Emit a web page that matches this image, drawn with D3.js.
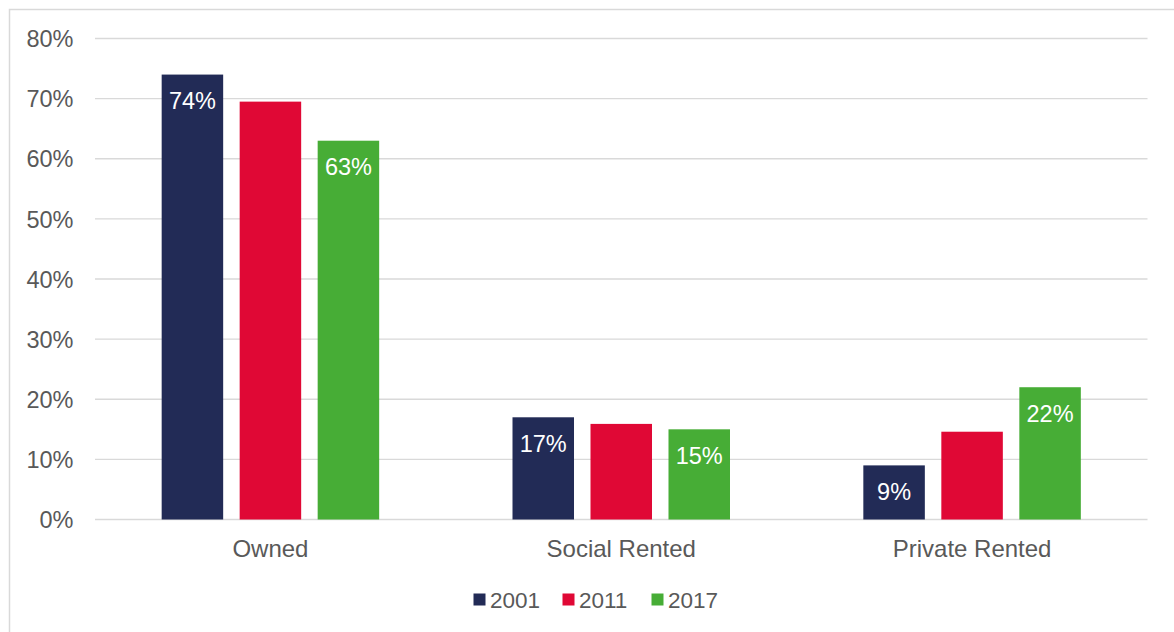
<!DOCTYPE html>
<html>
<head>
<meta charset="utf-8">
<script src="https://cdn.jsdelivr.net/npm/d3@7"></script>
<style>
  html, body { margin: 0; padding: 0; background: #fff; }
  svg { display: block; }
  text { font-family: "Liberation Sans", Arial, sans-serif; }
</style>
</head>
<body>
<svg id="chart" width="1174" height="632"></svg>
<script>
// Housing tenure share by year
const categories = ["Owned", "Social Rented", "Private Rented"];
const years = ["2001", "2011", "2017"];
const values2001 = [74, 17, 9];
const values2011 = [69.5, 15.9, 14.6];
const values2017 = [63, 15, 22];
const labelledYears = ["2001", "2017"];
const yTicks = [0, 10, 20, 30, 40, 50, 60, 70, 80];
const colors = ["#222B56", "#E00835", "#47AD36"];

const seriesValues = { "2001": values2001, "2011": values2011, "2017": values2017 };

const svg = d3.select("#chart");
const W = 1174, H = 632;
const plot = { left: 95, right: 1147.5, top: 38.5, bottom: 519.5 };

// chart frame
svg.append("rect")
  .attr("x", 9.5).attr("y", 9.5)
  .attr("width", W + 20).attr("height", H + 20)
  .attr("fill", "none")
  .attr("stroke", "#d9d9d9")
  .attr("stroke-width", 1.5);

const y = d3.scaleLinear().domain([0, 80]).range([plot.bottom, plot.top]);
const x0 = d3.scaleBand().domain(categories).range([plot.left, plot.right]).padding(0);
const groupWidth = 217.5;
const x1 = d3.scaleBand().domain(years)
  .range([-groupWidth / 2, groupWidth / 2])
  .paddingInner(0.2115).paddingOuter(0);
const color = d3.scaleOrdinal().domain(years).range(colors);

// gridlines
svg.append("g")
  .selectAll("line")
  .data(yTicks)
  .join("line")
  .attr("x1", plot.left).attr("x2", plot.right)
  .attr("y1", d => y(d)).attr("y2", d => y(d))
  .attr("stroke", "#d9d9d9")
  .attr("stroke-width", 1.4);

// y axis labels
const yAxis = d3.axisLeft(y).tickValues(yTicks).tickFormat(d => d + "%").tickSize(0).tickPadding(0);
const yG = svg.append("g").attr("transform", `translate(73.5,0)`).call(yAxis);
yG.select(".domain").remove();
yG.selectAll("text")
  .attr("fill", "#595959")
  .attr("font-size", "23.5px")
  .attr("font-family", "'Liberation Sans', Arial, sans-serif")
  .attr("dy", "0.35em");

// x axis labels
const xAxis = d3.axisBottom(x0).tickSize(0).tickPadding(0);
const xG = svg.append("g").attr("transform", `translate(0,${plot.bottom})`).call(xAxis);
xG.select(".domain").remove();
xG.selectAll("text")
  .attr("fill", "#595959")
  .attr("font-size", "24px")
  .attr("font-family", "'Liberation Sans', Arial, sans-serif")
  .attr("y", 37)
  .attr("dy", 0);

// bars
const data = [];
categories.forEach((c, i) => {
  years.forEach(yr => data.push({ cat: c, year: yr, value: seriesValues[yr][i] }));
});

const barX = d => x0(d.cat) + x0.bandwidth() / 2 + x1(d.year);

svg.append("g")
  .selectAll("rect")
  .data(data)
  .join("rect")
  .attr("x", barX)
  .attr("y", d => y(d.value))
  .attr("width", x1.bandwidth())
  .attr("height", d => y(0) - y(d.value))
  .attr("fill", d => color(d.year));

// value labels
svg.append("g")
  .selectAll("text")
  .data(data.filter(d => labelledYears.includes(d.year)))
  .join("text")
  .attr("x", d => barX(d) + x1.bandwidth() / 2)
  .attr("y", d => y(d.value) + 34.5)
  .attr("text-anchor", "middle")
  .attr("fill", "#ffffff")
  .attr("font-size", "23.5px")
  .text(d => d3.format(".0f")(d.value) + "%");

// legend
const legendX = [473.5, 562.5, 651.5];
const legend = svg.append("g");
years.forEach((yr, i) => {
  legend.append("rect")
    .attr("x", legendX[i]).attr("y", 593.5)
    .attr("width", 12).attr("height", 12)
    .attr("fill", color(yr));
  legend.append("text")
    .attr("x", legendX[i] + 16.5).attr("y", 607.5)
    .attr("fill", "#595959")
    .attr("font-size", "22.5px")
    .text(yr);
});
</script>
</body>
</html>
